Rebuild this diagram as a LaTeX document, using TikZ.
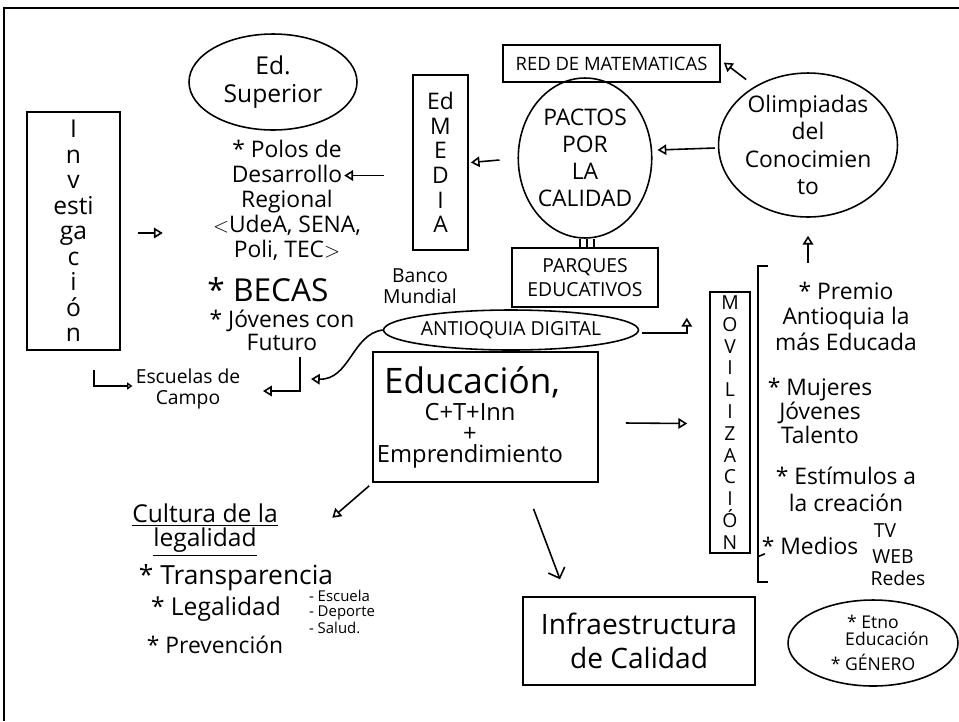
\documentclass[tikz,border=0pt]{standalone}
\usepackage{fontspec}
\setmainfont{Open Sans}
\usetikzlibrary{arrows.meta,shapes.geometric,calc}
\newcommand\fz[2]{\fontsize{#1}{#2}\selectfont}
\begin{document}
\begin{tikzpicture}[x=0.02cm,y=-0.02cm,
  every node/.style={inner sep=0pt, align=center},
  ln/.style={line width=0.9pt},
  box/.style={ln, draw, rectangle},
  oval/.style={ln, draw, ellipse},
  arr/.style={ln, -{Triangle[open,length=5pt,width=6pt]}},
  varr/.style={ln, -{Straight Barb[length=5pt,width=10pt]}}]
\useasboundingbox (0,0) rectangle (959,721);
% frame
\draw[line width=1.7pt] (4,721) -- (4,8) -- (959,8);

% nodes
\node[oval, minimum width=3.36cm, minimum height=1.92cm, font=\fz{14}{15.5}] (edsup) at (273,82) {Ed.\\ Superior};
\node[box, minimum width=1.86cm, minimum height=4.76cm, font=\fz{14}{14.5}] (invest) at (73.5,231) {I\\n\\v\\esti\\ga\\c\\i\\ó\\n};
\node[font=\fz{13}{14.2}] (polos) at (287,200) {* Polos de\\Desarrollo\\Regional\\$<$UdeA, SENA,\\Poli, TEC$>$};
\node[font=\fz{18}{20}] (becas) at (268,290) {* BECAS};
\node[font=\fz{13}{13}] (jov) at (282,330) {* Jóvenes con\\Futuro};
\node[box, minimum width=1.1cm, minimum height=3.5cm, font=\fz{13}{14}] (edmedia) at (440.5,162.5) {Ed\\M\\E\\D\\I\\A};
\node[font=\fz{11}{12}] (banco) at (420,286) {Banco\\Mundial};
\node[box, minimum width=4.34cm, minimum height=0.74cm, font=\fz{10.5}{12}] (red) at (611.5,63.5) {RED DE MATEMATICAS};
\node[oval, minimum width=2.48cm, minimum height=3.2cm, font=\fz{13}{15.3}] (pactos) at (585,158) {PACTOS\\POR\\LA\\CALIDAD};
\node[oval, minimum width=3.32cm, minimum height=2.88cm, font=\fz{13}{15.5}] (olimp) at (808,145) {Olimpiadas\\del\\Conocimien\\to};
\node[box, minimum width=2.92cm, minimum height=1.18cm, font=\fz{11}{14}] (parques) at (585,277.5) {PARQUES\\EDUCATIVOS};
\node[oval, minimum width=4.96cm, minimum height=0.8cm, font=\fz{11}{12}] (antioquia) at (511,330) {ANTIOQUIA DIGITAL};
\node[font=\fz{11}{11.5}] (escuelas) at (188,389) {Escuelas de\\Campo};
\node[box, minimum width=4.5cm, minimum height=2.6cm] (educ) at (485.5,417) {};
\node[font=\fz{20}{22}] (educ1) at (472,382) {Educación,};
\node[font=\fz{13.5}{12}] (educ2) at (470,436) {C+T+Inn\\+\\Emprendimiento};
\node[box, minimum width=0.8cm, minimum height=5.22cm, font=\fz{11}{12.4}] (movil) at (730,422.5) {M\\O\\V\\I\\L\\I\\Z\\A\\C\\I\\Ó\\N};
\node[font=\fz{13}{14.5}] (premio) at (846,316) {* Premio\\Antioquia la\\más Educada};
\node[font=\fz{13}{13.5}] (mujeres) at (820,411) {* Mujeres\\Jóvenes\\Talento};
\node[font=\fz{13}{15.5}] (estim) at (846,489) {* Estímulos a\\la creación};
\node[font=\fz{13}{14}] (medios) at (810,546) {* Medios};
\node[font=\fz{11}{12}] (tv) at (885,531) {TV};
\node[font=\fz{11}{12}] (web) at (893,557) {WEB};
\node[font=\fz{11}{12}] (redes) at (898,578) {Redes};
\node[box, minimum width=4.64cm, minimum height=1.76cm, font=\fz{16}{19}] (infra) at (639,641) {Infraestructura\\de Calidad};
\node[oval, minimum width=3.4cm, minimum height=1.72cm, font=\fz{10}{9.5}] (etno) at (873,643) {* Etno\\\hspace*{1.6em}Educación\\[5pt]* GÉNERO};
\node[font=\fz{14}{13.5}] (cultura) at (205,530) {\underline{Cultura de la}\\\underline{legalidad}};
\node[font=\fz{15}{16}] (transp) at (236,578) {* Transparencia};
\node[font=\fz{14}{15}] (legal) at (216,609) {* Legalidad};
\node[font=\fz{8.5}{8.3}, align=left] (sub) at (342,612) {- Escuela\\- Deporte\\- Salud.};
\node[font=\fz{13}{14}] (prev) at (215,645) {* Prevención};

% named free ends
\coordinate (c1) at (311,379);
\coordinate (c2) at (300,357);
\coordinate (c3) at (263,391);
\coordinate (c4) at (94,370);

% connectors
\draw[arr] ($(invest.east)+(17,2)$) -- ++(25,0);
\draw[arr] ($(edmedia.west)+(-28,13)$) -- ++(-40,0);
\draw[arr] ($(pactos.west)+(-18,2)$) -- ($(edmedia.east)+(2,0)$);
\draw[arr] ($(olimp.west)+(-3,3)$) -- ($(pactos.east)+(5,-8)$);
\draw[arr] ($(olimp.north west)+(2,-14)$) -- ($(red.east)+(3,-1)$);
\draw[arr] ($(olimp.south)+(0,45)$) -- ($(olimp.south)+(0,18)$);
\draw[arr] ($(antioquia.east)+(3,3)$) -| ($(parques.south east)+(28,10)$);
\draw[arr] (antioquia.west) .. controls (352,334) and (350,380) .. (c1);
\draw[arr] (c2) |- (c3);
\draw[ln, -{Triangle[open,length=3pt,width=4pt]}] (c4) |- ($(escuelas.west)+(-3,-3)$);
\draw[arr] ($(educ.east)+(27,6)$) -- ($(movil.west)+(-22,1)$);
\draw[varr] ($(educ.south)+(48,26)$) -- ($(infra.north)+(-79,-17)$);
\draw[arr] ($(educ.south west)+(-3,3)$) -- ++(-37,32);

% ticks under Pactos
\foreach \dx in {-5,2,9}
  \draw[ln] ($(pactos.south)+(\dx,0)$) -- ++(0,9);
% bracket of Movilizacion
\draw[ln] ($(movil.north east)+(17,-25)$) -- ++(-10,0) -- ++(0,316) -- ++(10,0);
\draw[ln] ($(movil.south east)+(7,3)$) -- ++(7,-3);
\end{tikzpicture}
\end{document}
